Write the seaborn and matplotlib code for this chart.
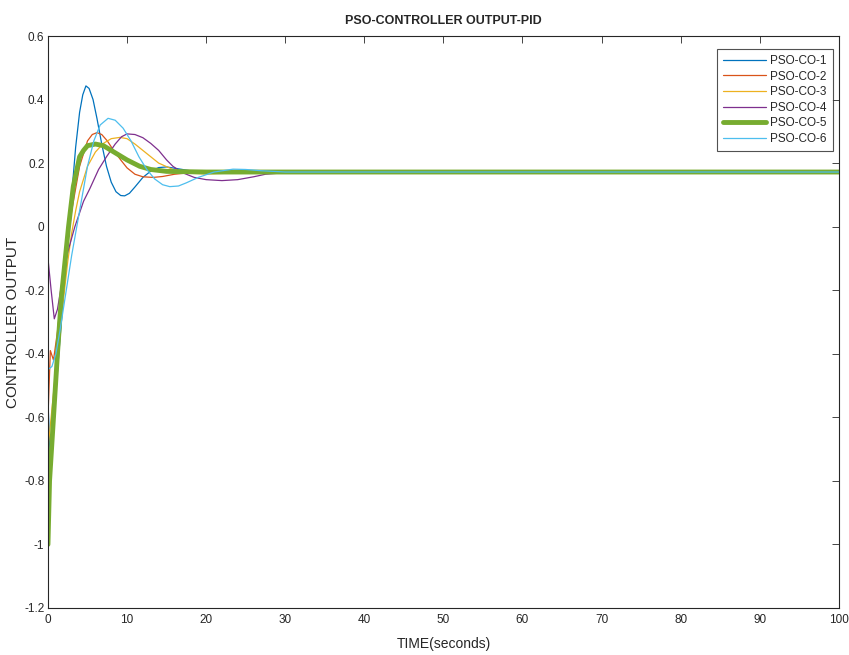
import matplotlib
matplotlib.use("Agg")
import matplotlib.pyplot as plt
import matplotlib.ticker as mticker
import pandas as pd
import seaborn as sns

# controller output curves
t1 = [0, 0.3, 0.6, 1, 1.5, 2, 2.5, 3, 3.5, 4, 4.4, 4.8, 5.2, 5.7, 6.2, 6.8, 7.4, 8, 8.6, 9.2,
      9.7, 10.3, 11, 12, 13, 14, 15, 16, 18, 20, 25, 30, 100]
y1 = [-0.55, -0.74, -0.66, -0.52, -0.36, -0.2, -0.05, 0.1, 0.25, 0.36, 0.415, 0.443, 0.435, 0.4,
      0.34, 0.26, 0.19, 0.14, 0.11, 0.098, 0.097, 0.105, 0.125, 0.155, 0.175, 0.186, 0.188, 0.184,
      0.176, 0.17, 0.171, 0.172, 0.172]

t2 = [0, 0.3, 0.7, 1.2, 2, 3, 4, 5, 5.6, 6.2, 6.8, 7.5, 8.3, 9.2, 10, 11, 12, 13.3, 14.5, 16,
      18, 20, 25, 100]
y2 = [-0.6, -0.39, -0.42, -0.33, -0.14, 0.05, 0.19, 0.27, 0.29, 0.296, 0.29, 0.27, 0.24, 0.21,
      0.185, 0.165, 0.157, 0.155, 0.158, 0.165, 0.17, 0.172, 0.172, 0.172]

t3 = [0, 0.4, 1, 1.5, 2, 2.5, 3, 3.5, 4, 5, 6, 7, 8, 9.1, 10, 11, 12, 13, 14, 15.8, 17, 18, 20,
      25, 100]
y3 = [-0.7, -0.6, -0.45, -0.33, -0.22, -0.11, -0.02, 0.05, 0.11, 0.19, 0.235, 0.262, 0.277,
      0.281, 0.277, 0.26, 0.24, 0.22, 0.2, 0.18, 0.172, 0.168, 0.166, 0.17, 0.172]

t4 = [0, 0.4, 0.8, 1.2, 1.8, 2.5, 3.4, 4.5, 5.3, 6.4, 7.4, 8.5, 9.3, 10, 11, 12, 13, 14, 15,
      15.8, 17, 18.5, 20, 22, 24, 26, 27.5, 30, 100]
y4 = [-0.1, -0.2, -0.29, -0.26, -0.17, -0.08, 0.0, 0.08, 0.12, 0.18, 0.22, 0.26, 0.283, 0.292,
      0.29, 0.28, 0.262, 0.24, 0.21, 0.19, 0.17, 0.155, 0.148, 0.145, 0.148, 0.157, 0.165, 0.17,
      0.172]

t5 = [0, 0.2, 0.7, 1.2, 1.7, 2.6, 3.2, 4, 4.5, 5, 6, 7, 8, 9, 10, 11.6, 13, 15, 20, 100]
y5 = [-1.0, -0.8, -0.6, -0.4, -0.22, 0.0, 0.126, 0.22, 0.24, 0.255, 0.26, 0.255, 0.24, 0.225,
      0.21, 0.19, 0.18, 0.174, 0.172, 0.172]

t6 = [0, 0.5, 1, 1.5, 2, 2.5, 3, 3.5, 4, 4.5, 5, 5.8, 6.6, 7.6, 8.5, 9.5, 10.5, 11.5, 12.5,
      13.5, 14.5, 15.4, 16.5, 17.5, 19, 21, 23.4, 25, 27, 30, 100]
y6 = [-0.45, -0.44, -0.4, -0.33, -0.25, -0.17, -0.09, -0.02, 0.05, 0.12, 0.19, 0.27, 0.32,
      0.341, 0.335, 0.31, 0.27, 0.22, 0.18, 0.15, 0.132, 0.126, 0.128, 0.138, 0.155, 0.172,
      0.181, 0.18, 0.176, 0.172, 0.172]

labels = ["PSO-CO-1", "PSO-CO-2", "PSO-CO-3", "PSO-CO-4", "PSO-CO-5", "PSO-CO-6"]
colors = ["#0072BD", "#D95319", "#EDB120", "#7E2F8E", "#77AC30", "#4DBEEE"]
widths = [0.9, 0.9, 0.9, 0.9, 3.5, 0.9]

sns.set_style("white")
plt.rcParams['font.family'] = ['Liberation Sans', 'DejaVu Sans']

fig = plt.figure(figsize=(8.49, 6.55), dpi=100)
ax = fig.add_axes([0.0565, 0.0718, 0.9315, 0.8732])

series = [(t1, y1), (t2, y2), (t3, y3), (t4, y4), (t5, y5), (t6, y6)]
for (t, y), lab, c, w in zip(series, labels, colors, widths):
    df = pd.DataFrame({"time": t, "out": y})
    sns.lineplot(data=df, x="time", y="out", ax=ax, color=c, linewidth=w, label=lab)

ax.set_xlim(0, 100)
ax.set_ylim(-1.2, 0.6)
ax.set_xticks(range(0, 101, 10))
ax.set_yticks([-1.2 + 0.2 * i for i in range(10)])
ax.yaxis.set_major_formatter(mticker.FuncFormatter(lambda v, p: f"{v:g}" if abs(v) > 1e-9 else "0"))
ax.tick_params(direction="in", top=True, right=True, length=5, width=0.6,
               colors="#262626", labelsize=8.5, pad=4)
ax.tick_params(axis="y", pad=2.5)
for s in ax.spines.values():
    s.set_color("#262626")
    s.set_linewidth(0.8)

ax.set_title("PSO-CONTROLLER OUTPUT-PID", fontsize=9, fontweight="bold", pad=9)
ax.set_xlabel("TIME(seconds)", fontsize=10, color="#262626", labelpad=8)
ax.set_ylabel("CONTROLLER OUTPUT", fontsize=11, color="#262626")
ax.yaxis.set_label_coords(-0.035, 0.5)

leg = ax.legend(loc="upper right", bbox_to_anchor=(0.9925, 0.977), fontsize=8.5,
                frameon=True, fancybox=False, handlelength=3.6, borderaxespad=0,
                labelspacing=0.3, handletextpad=0.4, borderpad=0.5)
leg.get_frame().set_edgecolor("#262626")
leg.get_frame().set_linewidth(0.8)

fig.savefig("out.png", dpi=100)
